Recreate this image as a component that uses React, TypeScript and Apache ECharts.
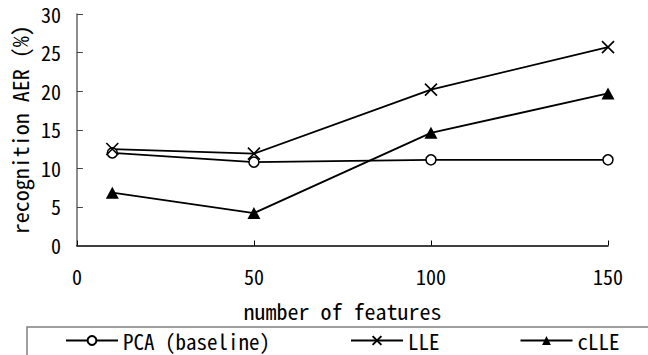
import React, { useEffect, useRef } from "react";
import * as echarts from "echarts";

const featureCounts = [10, 50, 100, 150];
const pcaValues = [12.0, 10.8, 11.1, 11.1];
const lleValues = [12.5, 11.9, 20.2, 25.7];
const clleValues = [6.85, 4.2, 14.6, 19.7];
const seriesNames = ["PCA (baseline)", "LLE", "cLLE"];
const xTicks = { min: 0, max: 150, interval: 50 };
const yTicks = { min: 0, max: 30, interval: 5 };

const FONT = "'Noto Sans Mono CJK SC', 'Liberation Serif', serif";

export default function App() {
  const ref = useRef<HTMLDivElement>(null);
  useEffect(() => {
    if (!ref.current) return;
    const chart = echarts.init(ref.current, null, { renderer: "svg" });
    const pair = (vals: number[]) => featureCounts.map((x, i) => [x, vals[i]]);
    const crossPath = "path://M0,0L10,10M10,0L0,10";
    chart.setOption({
      animation: false,
      backgroundColor: "#fff",
      textStyle: { fontFamily: FONT, color: "#000" },
      grid: { left: 72.5, right: 40, top: 14, bottom: 109.5, containLabel: false },
      xAxis: {
        type: "value",
        min: xTicks.min,
        max: xTicks.max,
        interval: xTicks.interval,
        name: "number of features",
        nameLocation: "middle",
        nameGap: 53,
        nameTextStyle: { fontFamily: FONT, fontSize: 22, color: "#000", verticalAlign: "top" },
        axisLine: { lineStyle: { color: "#000", width: 1.5 } },
        axisTick: { inside: true, length: 5, lineStyle: { color: "#000", width: 1 } },
        axisLabel: { fontFamily: FONT, fontSize: 20, color: "#000", margin: 21 },
        splitLine: { show: false },
      },
      yAxis: {
        type: "value",
        min: yTicks.min,
        max: yTicks.max,
        interval: yTicks.interval,
        name: "recognition AER (%)",
        nameLocation: "middle",
        nameGap: 45,
        nameTextStyle: { fontFamily: FONT, fontSize: 22, color: "#000" },
        axisLine: { show: true, lineStyle: { color: "#666", width: 1.5 } },
        axisTick: { show: true, inside: true, length: 6, lineStyle: { color: "#444", width: 1 } },
        axisLabel: { fontFamily: FONT, fontSize: 20, color: "#000", margin: 16 },
        splitLine: { show: false },
      },
      legend: {
        left: 65,
        top: 330,
        padding: 0,
        itemWidth: 52,
        itemHeight: 11,
        itemGap: 80,
        textStyle: { fontFamily: FONT, fontSize: 21, color: "#000" },
        data: seriesNames,
      },
      graphic: [
        {
          type: "rect",
          left: 24.5,
          top: 324.5,
          shape: { x: 0, y: 0, width: 640, height: 50 },
          style: { fill: "none", stroke: "#808080", lineWidth: 1.5 },
          silent: true,
          z: -1,
        },
      ],
      series: [
        {
          name: seriesNames[0],
          type: "line",
          data: pair(pcaValues),
          symbol: "circle",
          symbolSize: 10,
          lineStyle: { color: "#000", width: 1.8 },
          itemStyle: { color: "#fff", borderColor: "#000", borderWidth: 1.5 },
        },
        {
          name: seriesNames[1],
          type: "line",
          data: pair(lleValues),
          symbol: crossPath,
          symbolSize: 12,
          lineStyle: { color: "#000", width: 1.8 },
          itemStyle: { color: "#000", borderColor: "#000", borderWidth: 1.6 },
        },
        {
          name: seriesNames[2],
          type: "line",
          data: pair(clleValues),
          symbol: "triangle",
          symbolSize: [13, 12],
          lineStyle: { color: "#000", width: 1.8 },
          itemStyle: { color: "#000", borderColor: "#000", borderWidth: 0 },
        },
      ],
    });
    return () => chart.dispose();
  }, []);
  return (
    <div
      ref={ref}
      style={{ position: "fixed", left: 0, top: 0, width: 648, height: 355, background: "#fff" }}
    />
  );
}
